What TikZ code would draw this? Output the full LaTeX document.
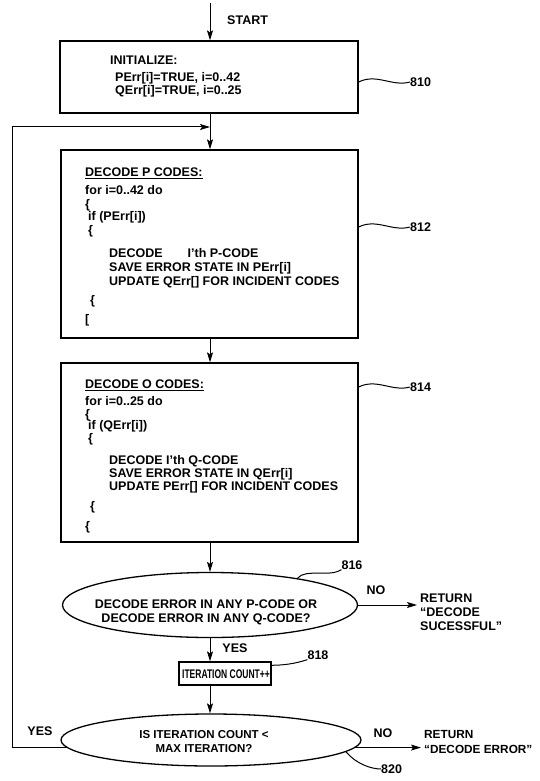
\documentclass[tikz,border=0pt]{standalone}
\usepackage{fontspec}
\usepackage{graphicx}
\setmainfont{Liberation Sans}
\usetikzlibrary{arrows.meta,shapes.geometric}
\newcommand{\dfont}{\bfseries\fontsize{12.5}{14}\selectfont}
\begin{document}
\begin{tikzpicture}[x=1pt,y=-1pt,
 box/.style={draw,line width=1.3pt,inner sep=0pt},
 dec/.style={draw,ellipse,line width=1.3pt,inner sep=0pt},
 txt/.style={font=\dfont,align=left,inner sep=0pt,anchor=north west},
 lbl/.style={font=\dfont,inner sep=0pt},
 arr/.style={line width=1pt,-{Stealth[length=10pt,width=6pt,inset=2pt]}},
 sq/.style={line width=1pt}]
\fill[white] (0,0) rectangle (539,781);
\useasboundingbox (0,0) rectangle (539,781);

% boxes and decisions
\node[box,minimum width=298pt,minimum height=72pt] (b810) at (209,77) {};
\node[txt] (t810) at (110,55.5) {INITIALIZE:\\[3pt]\hspace*{5pt}PErr[i]=TRUE, i=0..42\\[-1pt]\hspace*{5pt}QErr[i]=TRUE, i=0..25};

\node[box,minimum width=297pt,minimum height=188pt] (b812) at (209.5,244) {};
\node[txt] (t812) at (85,167.5) {\underline{DECODE P CODES:}\\[4pt]
for i=0..42 do\\
\{\\[-2pt]
\hspace*{3pt}if (PErr[i])\\
\hspace*{3pt}\{\\[9pt]
\hspace*{24pt}DECODE\hspace{25pt}I’th P-CODE\\
\hspace*{24pt}SAVE ERROR STATE IN PErr[i]\\
\hspace*{24pt}UPDATE QErr[] FOR INCIDENT CODES\\[5pt]
\hspace*{5pt}\{\\[5pt]
{[}};

\node[box,minimum width=297pt,minimum height=179pt] (b814) at (209.5,452.5) {};
\node[txt,font=\bfseries\fontsize{12.5}{13}\selectfont] (t814) at (85,379.5) {\underline{DECODE O CODES:}\\[4pt]
for i=0..25 do\\
\{\\[-2pt]
\hspace*{3pt}if (QErr[i])\\
\hspace*{3pt}\{\\[9pt]
\hspace*{24pt}DECODE I’th Q-CODE\\
\hspace*{24pt}SAVE ERROR STATE IN QErr[i]\\
\hspace*{24pt}UPDATE PErr[] FOR INCIDENT CODES\\[7pt]
\hspace*{5pt}\{\\[7pt]
\{};

\node[dec,minimum width=295pt,minimum height=65pt] (d816) at (210,605) {};
\node[lbl,align=center] (t816) at (206,612) {DECODE ERROR IN ANY P-CODE OR\\DECODE ERROR IN ANY Q-CODE?};

\node[box,minimum width=92pt,minimum height=23pt] (b818) at (225,673.5) {};
\node[lbl,font=\bfseries\fontsize{12.5}{14}\selectfont] (t818) at (226,674) {\scalebox{0.68}[1]{ITERATION COUNT++}};

\node[dec,minimum width=300pt,minimum height=52pt] (d820) at (211,740) {};
\node[lbl,align=center,font=\bfseries\fontsize{11.5}{14}\selectfont] (t820) at (204,742) {IS ITERATION COUNT <\\MAX ITERATION?};

% labels
\node[lbl,anchor=west] (start) at (227,20) {START};
\node[lbl,anchor=west] (l810) at (410,82) {810};
\node[lbl,anchor=west] (l812) at (410,227) {812};
\node[lbl,anchor=west] (l814) at (410,387) {814};
\node[lbl] (l816) at (352,565) {816};
\node[lbl] (l818) at (318,655) {818};
\node[lbl,anchor=west] (l820) at (381,769) {820};
\node[lbl] (no1) at (376,590) {NO};
\node[lbl] (yes1) at (235,648) {YES};
\node[lbl] (no2) at (383,733) {NO};
\node[lbl] (yes2) at (40,731) {YES};
\node[txt] (ret1) at (420,593.5) {RETURN\\“DECODE\\SUCESSFUL”};
\node[txt,font=\bfseries\fontsize{11.8}{15}\selectfont] (ret2) at (424,730) {RETURN\\“DECODE ERROR”};

% connectors
\coordinate (s0) at (210,3);
\draw[arr] (s0) -- (s0 |- b810.north);
\draw[arr] (b810.south -| s0) -- (b812.north -| s0);
\coordinate (lt) at (12,127);
\coordinate (lj) at (210,127);
\draw[arr] (d820.183) -- (lt |- d820.183) -- (lt) -- (lj);
\draw[arr] (b812.south -| s0) -- (b814.north -| s0);
\draw[arr] (b814.south -| s0) -- (d816.north);
\draw[arr] (d816.south) -- (d816.south |- b818.north);
\draw[arr] (d816.south |- b818.south) -- (d816.south |- d820.north);
\coordinate (r1) at (417,605);
\draw[arr] (d816.east) -- (r1);
\coordinate (r2) at (421,0);
\draw[arr] (d820.-3) -- (d820.-3 -| r2);

% reference squiggles
\draw[sq] (b810.east |- l810.west) .. controls +(18,-9) and +(-18,5) .. (l810.west);
\draw[sq] (b812.east |- l812.west) .. controls +(18,-9) and +(-18,5) .. (l812.west);
\draw[sq] (b814.east |- l814.west) .. controls +(18,-9) and +(-18,5) .. (l814.west);
\draw[sq] (d816.17) .. controls +(8,-10) and +(-12,8) .. (l816.south west);
\draw[sq] (b818.10) .. controls +(12,0) and +(-12,4) .. (l818.south west);
\draw[sq] (d820.-5) .. controls +(10,12) and +(-10,0) .. (l820.west);
\end{tikzpicture}
\end{document}
